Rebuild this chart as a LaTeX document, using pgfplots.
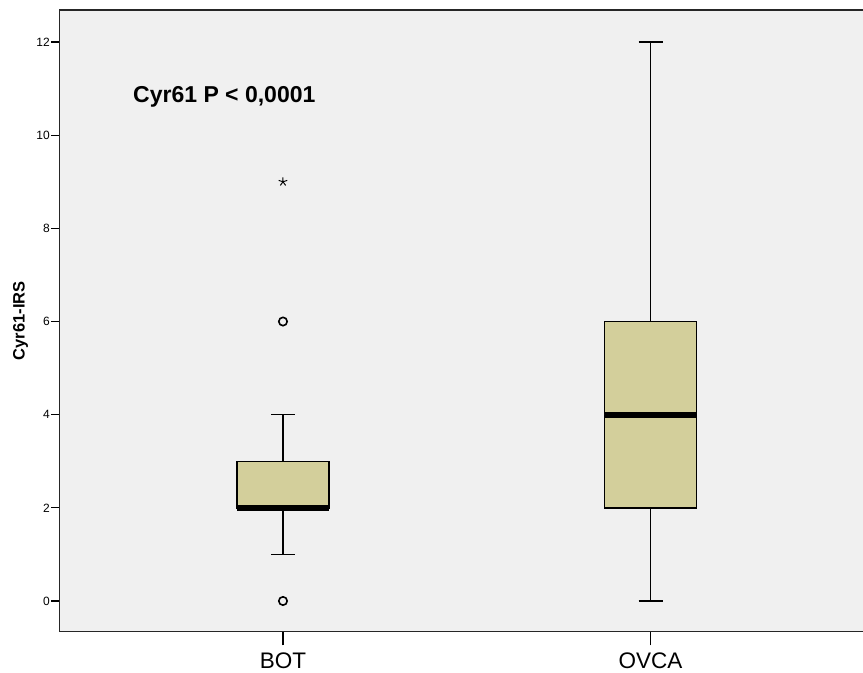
\documentclass[border=0pt]{standalone}
\usepackage{pgfplots}
\pgfplotsset{compat=1.18}
\usepgfplotslibrary{statistics}
\usepackage{fontspec}
\setmainfont{Liberation Sans}
\definecolor{panelbg}{RGB}{240,240,240}
\definecolor{boxfill}{RGB}{211,207,155}
\begin{document}
\begin{tikzpicture}
\begin{axis}[
  scale only axis,
  width=803.5pt, height=621.5pt,
  xmin=-0.608, xmax=1.578,
  ymin=-0.655, ymax=12.688,
  axis x line*=bottom, axis y line*=left,
  axis line style={-, line width=1.3pt, black!85},
  axis background/.style={fill=panelbg},
  clip=false,
  xtick={0,1}, xticklabels={BOT,OVCA},
  ytick={0,2,4,6,8,10,12},
  tick align=outside,
  major tick length=8pt,
  tick style={line width=1.2pt, black},
  xtick style={/pgfplots/major tick length=14pt},
  /pgf/number format/assume math mode=true,
  yticklabel style={font=\fontsize{12}{14}\selectfont, inner sep=1.5pt},
  xticklabel style={font=\fontsize{22.5}{26}\selectfont, inner sep=2pt, yshift=-11pt},
  ylabel={\bfseries Cyr61-IRS},
  ylabel style={font=\fontsize{16.5}{19}\selectfont, at={(axis description cs:-0.0485,0.5)}, anchor=center},
  boxplot/draw direction=y,
  boxplot/every median/.style={line width=6pt},
]
% BOT group
\addplot[boxplot prepared={lower whisker=1, lower quartile=2, median=2,
  upper quartile=3, upper whisker=4, draw position=0,
  box extend=0.25, whisker extend=0.065},
  draw=black, fill=boxfill, line width=1.4pt] coordinates {};
% OVCA group
\addplot[boxplot prepared={lower whisker=0, lower quartile=2, median=4,
  upper quartile=6, upper whisker=12, draw position=1,
  box extend=0.25, whisker extend=0.065},
  draw=black, fill=boxfill, line width=1.4pt] coordinates {};
% outliers of BOT
\addplot[only marks, mark=o, mark size=4.2pt, line width=1.6pt, black] coordinates {(0,0) (0,6)};
% extreme value of BOT
\addplot[only marks, mark=star, mark size=4.5pt, line width=1pt, black] coordinates {(0,9)};
% top border of the panel
\draw[line width=1.3pt, black!85] (rel axis cs:0,1) -- (rel axis cs:1,1);
\node[anchor=base west, font=\fontsize{23}{27}\selectfont\bfseries, inner sep=0pt]
  at (axis cs:-0.408,10.706) {Cyr61 P < 0,0001};
\end{axis}
\pgfresetboundingbox
\path[use as bounding box] ([shift={(-59.5pt,-41.5pt)}]current axis.south west)
  rectangle ([shift={(0pt,10pt)}]current axis.north east);
\end{tikzpicture}
\end{document}
